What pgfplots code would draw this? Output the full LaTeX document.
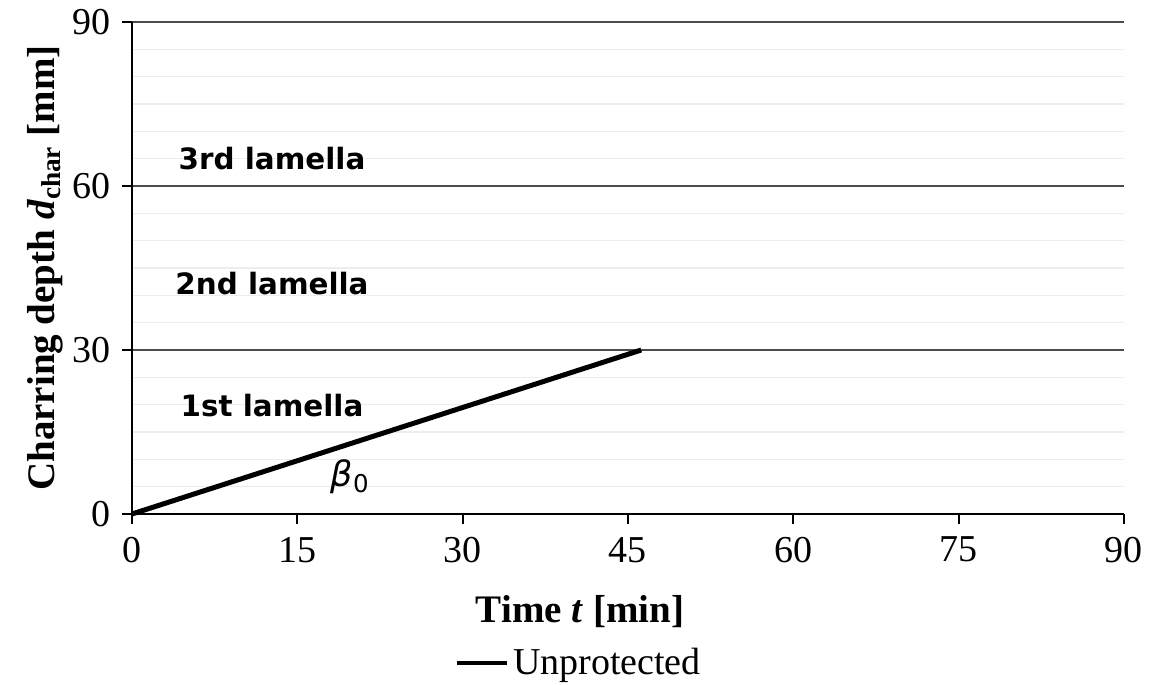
\documentclass[border=0pt]{standalone}
\usepackage{fontspec}
\setmainfont{Liberation Serif}
\newfontfamily\verd{DejaVu Sans}
\usepackage{pgfplots}
\pgfplotsset{compat=1.18}
\begin{document}
\begin{tikzpicture}
\begin{axis}[
  at={(0,0)}, anchor=south west,
  scale only axis, width=496pt, height=246pt,
  xmin=0, xmax=90, ymin=0, ymax=90,
  xtick={0,15,...,90}, ytick={0,30,60,90},
  minor y tick num=5,
  axis x line=bottom, axis y line=left,
  axis line style={black, line width=1pt, -},
  tick style={black, line width=1pt},
  major tick length=5pt, minor tick length=0pt,
  tick align=outside,
  ymajorgrids, yminorgrids,
  major grid style={black!70, line width=0.6pt},
  minor grid style={black!7, line width=0.6pt},
  /pgf/number format/assume math mode=true,
  tick label style={font=\fontsize{19}{22}\selectfont},
  xticklabel style={yshift=-3pt},
  yticklabel style={xshift=-2pt},
  xlabel={\textbf{Time \textit{t} [min]}},
  ylabel={\textbf{Charring depth \textit{d}\textsubscript{char} [mm]}},
  label style={font=\fontsize{19.5}{22}\selectfont},
  xlabel style={at={(axis description cs:0.4516,0)}, anchor=north, yshift=-37pt},
  ylabel style={at={(axis description cs:0,0.5)}, anchor=south, yshift=31pt},
  legend style={at={(axis description cs:0.4516,-0.303)}, anchor=center, draw=none, fill=none,
    font=\fontsize{19}{22}\selectfont, inner sep=0pt},
  legend image post style={xscale=1.45, line width=2.2pt},
  clip=false,
]
\addplot[black, line width=2.5pt] coordinates {(0,0) (46.2,30)};
\addlegendentry{Unprotected}
\node[font=\verd\bfseries\fontsize{14.7}{18}\selectfont] at (axis cs:12.7,65.1) {3rd lamella};
\node[font=\verd\bfseries\fontsize{14.7}{18}\selectfont] at (axis cs:12.7,42.1) {2nd lamella};
\node[font=\verd\bfseries\fontsize{14.7}{18}\selectfont] at (axis cs:12.7,19.9) {1st lamella};
\node[font=\verd\fontsize{17.5}{20}\selectfont] at (axis cs:19.8,6.8) {\textit{β}\textsubscript{0}};
\end{axis}
\pgfresetboundingbox
\path (-66pt,-85.5pt) rectangle (518pt,257pt);
\end{tikzpicture}
\end{document}
